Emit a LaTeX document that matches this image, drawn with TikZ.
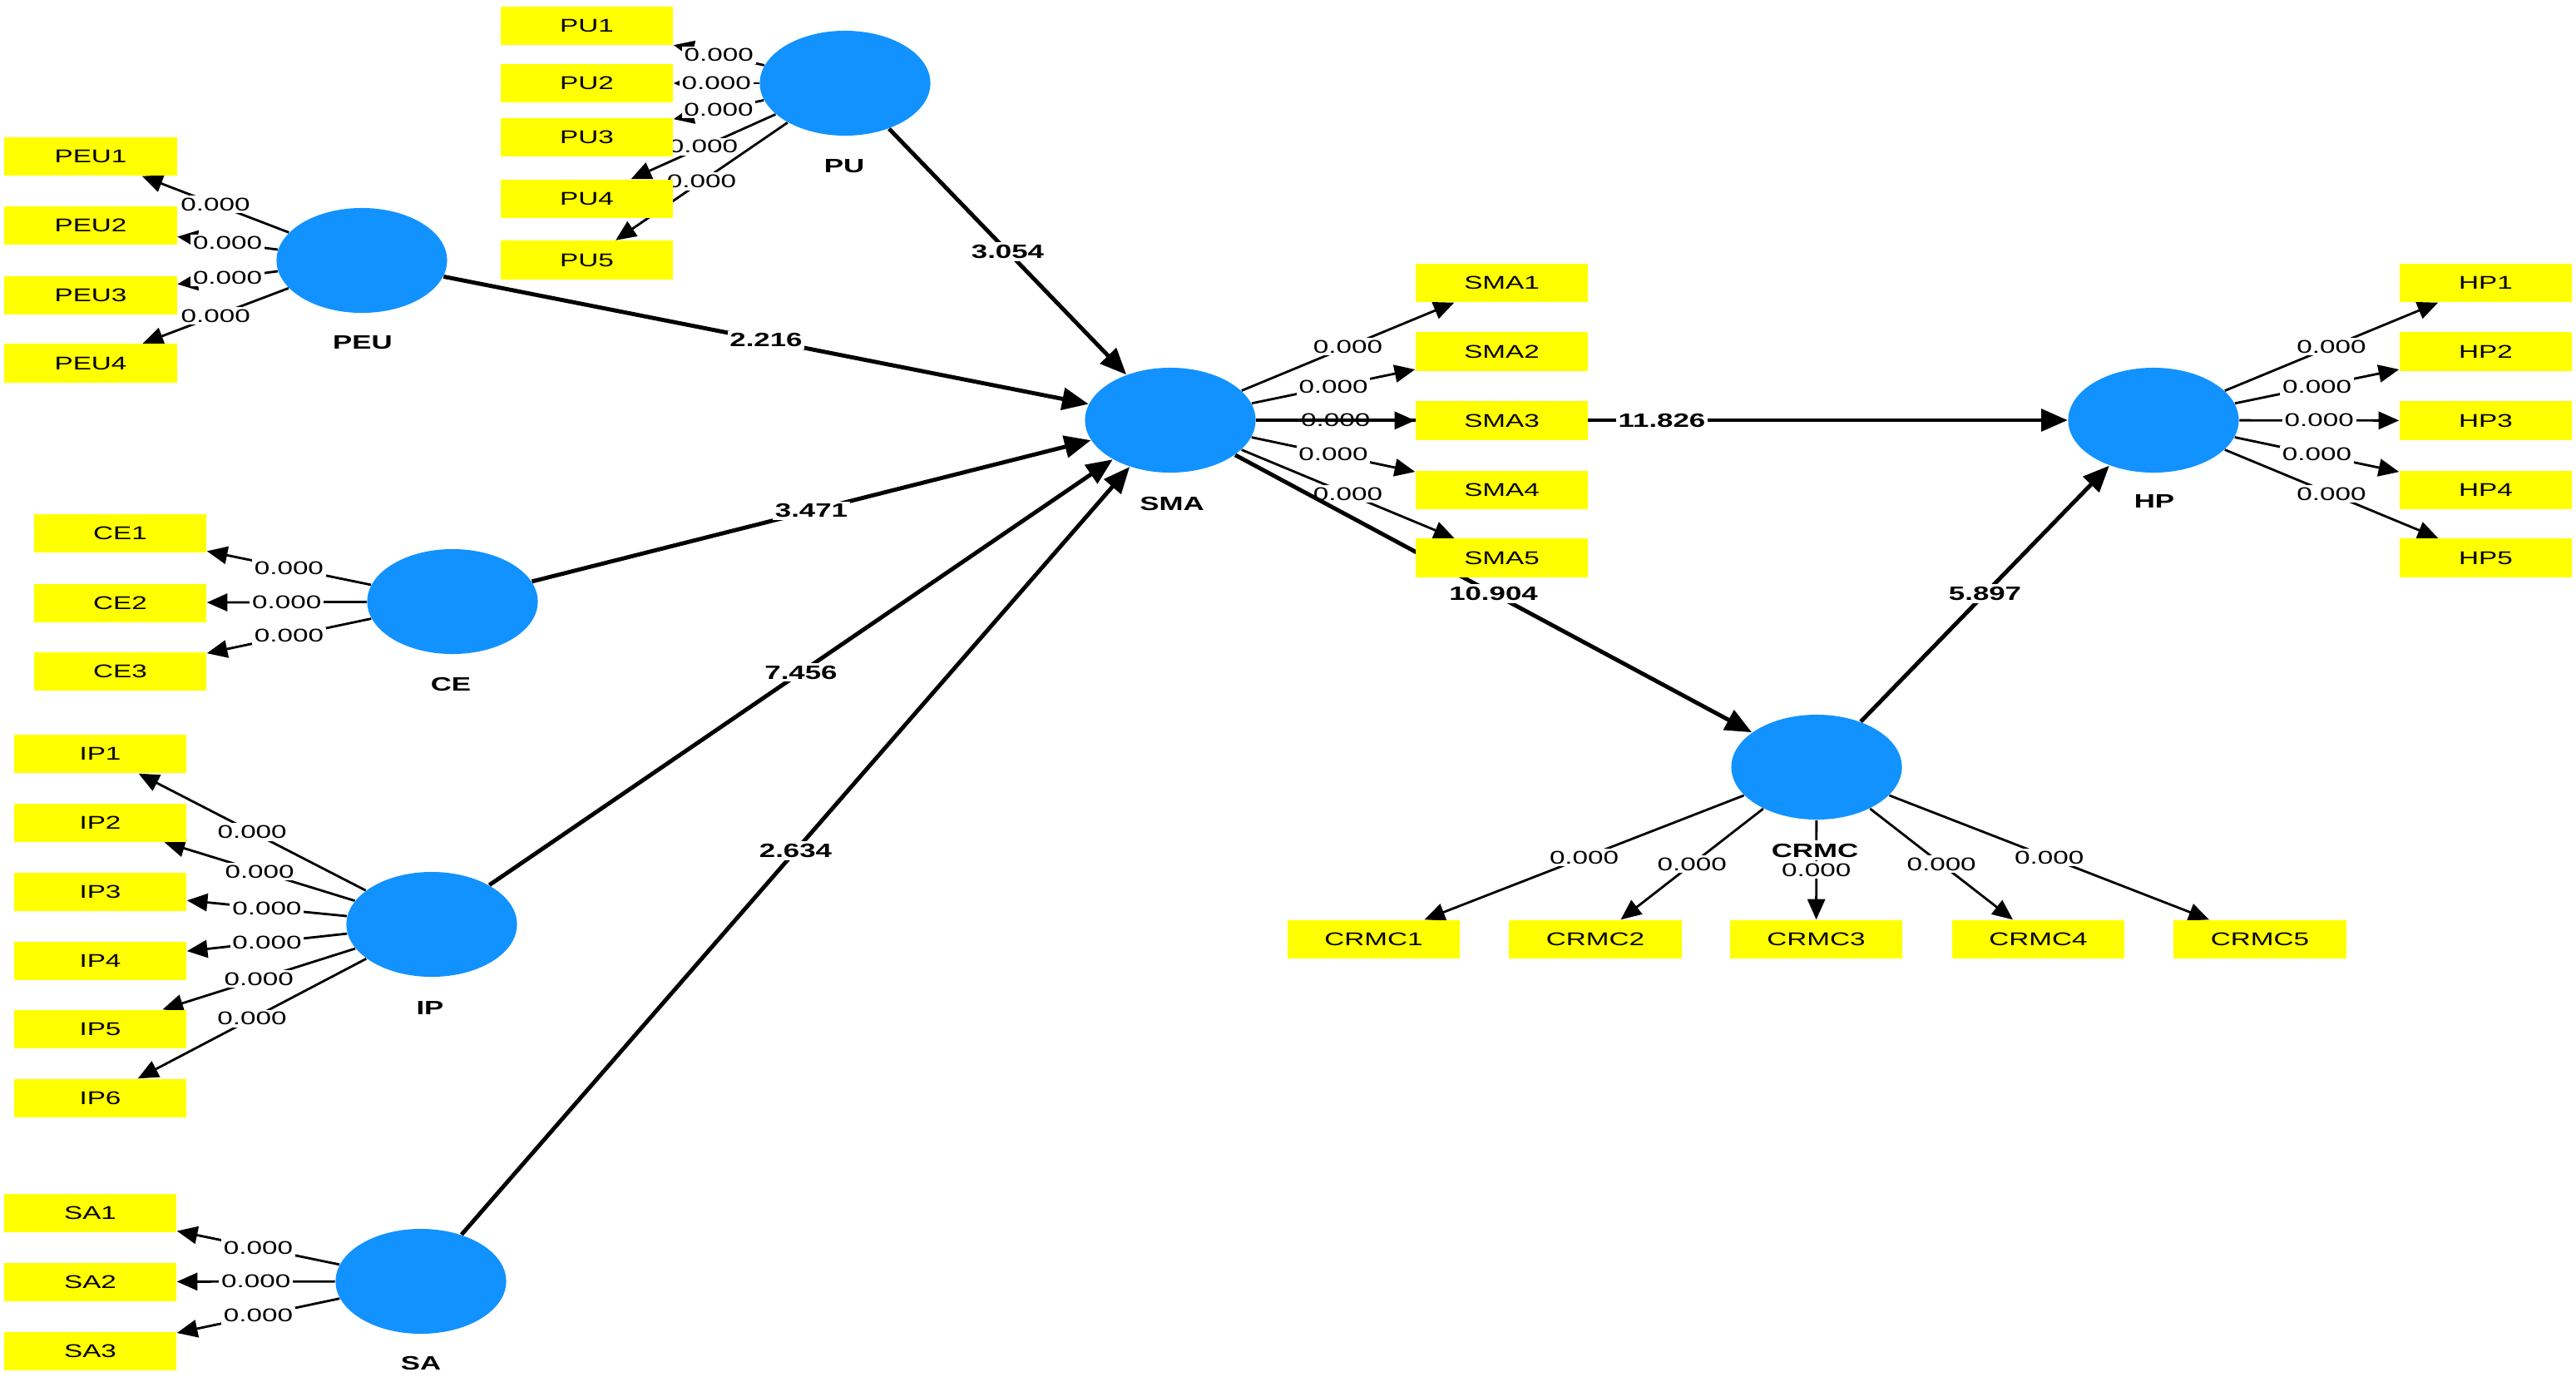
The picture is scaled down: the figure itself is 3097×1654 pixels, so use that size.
\documentclass[tikz,border=0pt]{standalone}
\usepackage{fontspec}
\setmainfont{Liberation Sans}[FakeStretch=1.5]
\usetikzlibrary{shapes.geometric,arrows.meta}
\pgfdeclarelayer{bg}
\pgfsetlayers{bg,main}
\definecolor{lvblue}{RGB}{18,146,255}
\definecolor{indyellow}{RGB}{255,255,0}
\begin{document}
\begin{tikzpicture}[x=0.01cm,y=-0.01cm,
  lv/.style={ellipse, fill=lvblue, minimum width=2.05cm, minimum height=1.26cm, inner sep=0pt},
  ind/.style={rectangle, fill=indyellow, minimum width=2.07cm, minimum height=0.46cm, inner sep=0pt, font=\fontsize{6.3}{7}\selectfont},
  lvlab/.style={font=\fontsize{6.6}{7.5}\selectfont\bfseries, fill=white, inner sep=1pt},
  ld/.style={draw, line width=0.8pt, -{Triangle[length=7pt,width=6pt]}},
  pth/.style={draw, line width=1.4pt, -{Triangle[length=9pt,width=7.5pt]}},
  w/.style={fill=white, inner sep=0.8pt, font=\fontsize{6.3}{7}\selectfont},
  wb/.style={fill=white, inner sep=0.8pt, font=\fontsize{6.6}{7.5}\selectfont\bfseries}
]
\useasboundingbox (0,0) rectangle (3097,1654);
\begin{pgfonlayer}{bg}
\fill[white] (0,0) rectangle (3097,1654);
\end{pgfonlayer}

% latent variables
\node[lv] (PU) at (1016,100) {};
\node[lv] (PEU) at (435,313) {};
\node[lv] (CE) at (544,723) {};
\node[lv] (IP) at (519,1111) {};
\node[lv] (SA) at (506,1540) {};
\node[lv] (SMA) at (1407,505) {};
\node[lv] (HP) at (2589,505) {};
\node[lv] (CRMC) at (2184,922) {};

\node[lvlab] (PUl) at (1015,200) {PU};
\node[lvlab] (PEUl) at (436,412) {PEU};
\node[lvlab] (CEl) at (542,822) {CE};
\node[lvlab] (IPl) at (517,1211) {IP};
\node[lvlab] (SAl) at (506,1638) {SA};
\node[lvlab] (SMAl) at (1409,605) {SMA};
\node[lvlab] (HPl) at (2590,603) {HP};

% indicators
\foreach \i/\y in {1/31,2/100,3/165,4/239,5/312.5}
  \node[ind] (PU\i) at (705.5,\y) {PU\i};
\foreach \i/\y in {1/188,2/271,3/355,4/436.5}
  \node[ind] (PEU\i) at (109,\y) {PEU\i};
\foreach \i/\y in {1/641,2/724.5,3/807}
  \node[ind] (CE\i) at (144.5,\y) {CE\i};
\foreach \i/\y in {1/906,2/988.5,3/1072,4/1154.5,5/1237,6/1320}
  \node[ind] (IP\i) at (120.5,\y) {IP\i};
\foreach \i/\y in {1/1458,2/1540.5,3/1624}
  \node[ind] (SA\i) at (108.5,\y) {SA\i};
\foreach \i/\y in {1/340,2/422.5,3/505.5,4/589,5/670.5}
  \node[ind] (SMA\i) at (1805.5,\y) {SMA\i};
\foreach \i/\y in {1/340,2/422.5,3/505.5,4/589,5/670.5}
  \node[ind] (HP\i) at (2988.5,\y) {HP\i};
\foreach \i/\x in {1/1651.5,2/1918,3/2183.5,4/2450.5,5/2717}
  \node[ind] (CRMC\i) at (\x,1129) {CRMC\i};

\begin{pgfonlayer}{bg}
% outer model
\foreach \i in {1,...,5} \draw[ld] (PU) -- node[w]{0.000} (PU\i);
\foreach \i in {1,...,4} \draw[ld] (PEU) -- node[w]{0.000} (PEU\i);
\foreach \i in {1,...,3} \draw[ld] (CE) -- node[w]{0.000} (CE\i);
\foreach \i in {1,...,6} \draw[ld] (IP) -- node[w]{0.000} (IP\i);
\foreach \i in {1,...,3} \draw[ld] (SA) -- node[w]{0.000} (SA\i);
\foreach \i in {1,...,5} \draw[ld] (SMA) -- node[w]{0.000} (SMA\i);
\foreach \i in {1,...,5} \draw[ld] (HP) -- node[w]{0.000} (HP\i);
\foreach \i in {1,...,5} \draw[ld] (CRMC) -- node[w]{0.000} (CRMC\i);
% inner model
\draw[pth] (PU) -- node[wb]{3.054} (SMA);
\draw[pth] (PEU) -- node[wb]{2.216} (SMA);
\draw[pth] (CE) -- node[wb]{3.471} (SMA);
\draw[pth] (IP) -- node[wb]{7.456} (SMA);
\draw[pth] (SA) -- node[wb]{2.634} (SMA);
\draw[pth] (SMA) -- node[wb]{11.826} (HP);
\draw[pth] (SMA) -- node[wb]{10.904} (CRMC);
\draw[pth] (CRMC) -- node[wb]{5.897} (HP);
\end{pgfonlayer}
\node[lvlab] (CRMCl) at (2182,1022) {CRMC};
\end{tikzpicture}
\end{document}
